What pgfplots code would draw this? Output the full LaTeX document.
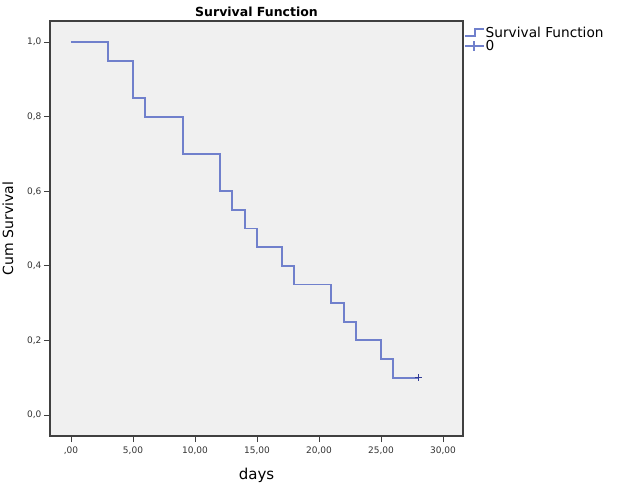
\documentclass[border=0pt]{standalone}
\usepackage{fontspec}
\setmainfont{DejaVu Sans}
\usepackage{pgfplots}
\pgfplotsset{compat=1.18}
\definecolor{kmline}{RGB}{112,128,204}
\definecolor{kmcens}{RGB}{50,60,150}
\definecolor{plotbg}{RGB}{240,240,240}

\begin{document}
\begin{tikzpicture}[x=1pt,y=1pt]
\useasboundingbox (-50,-51) rectangle (567,436);
\begin{axis}[
    at={(0,0)}, anchor=south west,
    scale only axis, width=413pt, height=415pt,
    xmin=-1.69, xmax=31.61, ymin=-0.0563, ymax=1.0563,
    axis background/.style={fill=plotbg},
    axis line style={draw=black!75, line width=1.1pt},
    xtick={0,5,10,15,20,25,30},
    xticklabels={{,00},{5,00},{10,00},{15,00},{20,00},{25,00},{30,00}},
    ytick={0,0.2,0.4,0.6,0.8,1},
    yticklabels={{0,0},{0,2},{0,4},{0,6},{0,8},{1,0}},
    xtick pos=lower, ytick pos=left,
    tick align=outside, major tick length=6pt,
    tick style={draw=black!75, line width=0.9pt},
    tick label style={font=\fontsize{9}{9}\selectfont, text=black!80},
    xticklabel style={yshift=-1pt},
    yticklabel style={xshift=1pt},
    xlabel={days}, ylabel={Cum Survival},
    xlabel style={at={(axis description cs:0.5,-0.094)}, anchor=center, font=\fontsize{15}{15}\selectfont},
    ylabel style={at={(axis description cs:-0.1017,0.5)}, anchor=center, font=\fontsize{14}{14}\selectfont},
    title={Survival Function},
    title style={at={(axis description cs:0.5,1)}, anchor=south, yshift=-5pt, font=\fontsize{12.5}{12.5}\selectfont\bfseries},
    legend style={at={(axis description cs:1,1)}, anchor=north west, xshift=1pt, yshift=-5pt,
        draw=none, fill=none, font=\fontsize{13.7}{13.7}\selectfont, inner sep=0pt,
        nodes={inner sep=1pt}, row sep=-1pt},
    legend cell align=left,
]
\addplot[kmline, line width=1.9pt, const plot,
    legend image code/.code={\draw[kmline, line width=1.5pt] (0pt,-3pt) -- (10pt,-3pt) -- (10pt,4pt) -- (19pt,4pt);}]
coordinates {
    (0,1) (3,0.95) (5,0.85) (6,0.8) (9,0.7) (12,0.6) (13,0.55) (14,0.5)
    (15,0.45) (17,0.4) (18,0.35) (21,0.3) (22,0.25) (23,0.2) (25,0.15)
    (26,0.1) (28,0.1)
};
\addlegendentry{Survival Function}
\addplot[kmcens, only marks, mark=+, mark size=3.5pt, mark options={line width=1.3pt},
    legend image code/.code={\draw[kmline, line width=1.5pt] (0pt,0pt) -- (19pt,0pt); \draw[kmline, line width=1.5pt] (9pt,-5pt) -- (9pt,5pt);}]
coordinates {(28,0.1)};
\addlegendentry{0}
\end{axis}
\end{tikzpicture}
\end{document}
